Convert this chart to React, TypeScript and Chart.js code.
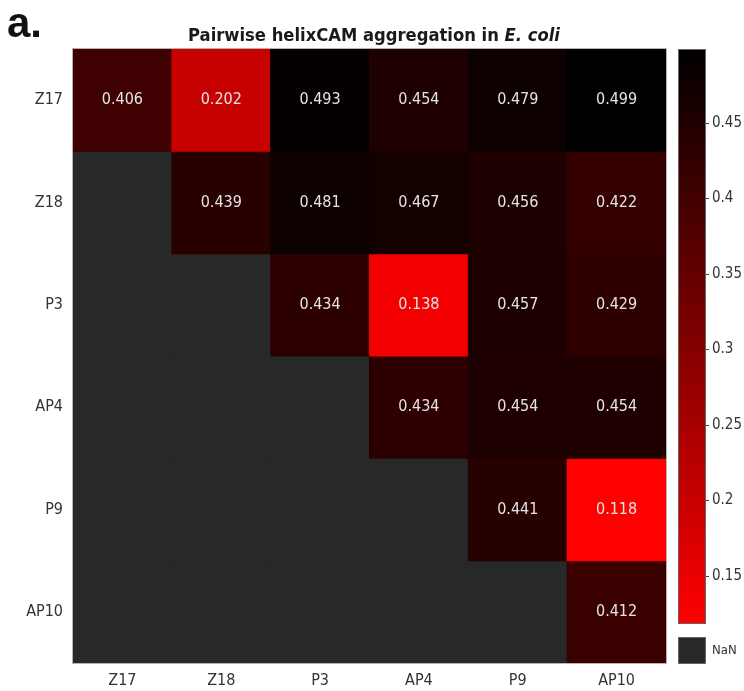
import React, { useEffect, useRef } from "react";
import { Chart, registerables } from "chart.js";

Chart.register(...registerables);

// ---- data ----
const ROW_LABELS = ["Z17", "Z18", "P3", "AP4", "P9", "AP10"];
const COL_LABELS = ["Z17", "Z18", "P3", "AP4", "P9", "AP10"];
const ROW_Z17 = [0.406, 0.202, 0.493, 0.454, 0.479, 0.499];
const ROW_Z18 = [null, 0.439, 0.481, 0.467, 0.456, 0.422];
const ROW_P3 = [null, null, 0.434, 0.138, 0.457, 0.429];
const ROW_AP4 = [null, null, null, 0.434, 0.454, 0.454];
const ROW_P9 = [null, null, null, null, 0.441, 0.118];
const ROW_AP10 = [null, null, null, null, null, 0.412];
const MATRIX: (number | null)[][] = [ROW_Z17, ROW_Z18, ROW_P3, ROW_AP4, ROW_P9, ROW_AP10];
const CB_MIN = 0.118;
const CB_MAX = 0.499;
const CB_TICKS = [0.15, 0.2, 0.25, 0.3, 0.35, 0.4, 0.45];
const TITLE_MAIN = "Pairwise helixCAM aggregation in ";
const TITLE_ITALIC = "E. coli";
const PANEL_LABEL = "a.";
const NAN_LABEL = "NaN";

const NAN_COLOR = "#272828";
const FONT = "'DejaVu Sans Condensed', 'DejaVu Sans', sans-serif";

function cellColor(v: number | null): string {
  if (v === null) return NAN_COLOR;
  const t = Math.min(1, Math.max(0, (v - CB_MIN) / (CB_MAX - CB_MIN)));
  const r = Math.round(255 * (1 - t));
  return `rgb(${r},0,0)`;
}

const overlayPlugin = {
  id: "heatOverlay",
  afterDatasetsDraw(chart: any) {
    const ctx = chart.ctx;
    const area = chart.chartArea;
    ctx.save();
    // cell value labels
    ctx.font = `16px ${FONT}`;
    ctx.fillStyle = "#e4e4e4";
    ctx.textAlign = "center";
    ctx.textBaseline = "middle";
    MATRIX.forEach((row, i) => {
      const meta = chart.getDatasetMeta(i);
      row.forEach((v, j) => {
        if (v === null) return;
        const el: any = meta.data[j];
        const cy = (el.y + el.base) / 2;
        ctx.fillText(v.toFixed(3), el.x, cy);
      });
    });
    // plot frame
    ctx.strokeStyle = "#b4b4b4";
    ctx.lineWidth = 1;
    ctx.strokeRect(area.left - 0.5, area.top - 0.5, area.right - area.left + 1, area.bottom - area.top + 1);
    ctx.restore();
  },
  afterDraw(chart: any) {
    const ctx = chart.ctx;
    const area = chart.chartArea;
    ctx.save();

    // panel label
    ctx.font = `bold 42px 'Liberation Sans', Arial, sans-serif`;
    ctx.fillStyle = "#111";
    ctx.textAlign = "left";
    ctx.textBaseline = "alphabetic";
    ctx.fillText(PANEL_LABEL, 7, 37);

    // title (fit to target width)
    const targetW = 372;
    let size = 15;
    ctx.font = `bold ${size}px ${FONT}`;
    let w1 = ctx.measureText(TITLE_MAIN).width;
    ctx.font = `italic bold ${size}px ${FONT}`;
    let w2 = ctx.measureText(TITLE_ITALIC).width;
    size = (size * targetW) / (w1 + w2);
    ctx.font = `bold ${size}px ${FONT}`;
    w1 = ctx.measureText(TITLE_MAIN).width;
    ctx.font = `italic bold ${size}px ${FONT}`;
    w2 = ctx.measureText(TITLE_ITALIC).width;
    const cx = 374;
    const x0 = cx - (w1 + w2) / 2;
    ctx.fillStyle = "#1a1a1a";
    ctx.font = `bold ${size}px ${FONT}`;
    ctx.fillText(TITLE_MAIN, x0, 41);
    ctx.font = `italic bold ${size}px ${FONT}`;
    ctx.fillText(TITLE_ITALIC, x0 + w1, 41);

    // colorbar
    const cbL = area.right + 12;
    const cbW = 28;
    const cbTop = area.top;
    const cbBot = 624;
    const grad = ctx.createLinearGradient(0, cbTop, 0, cbBot);
    grad.addColorStop(0, cellColor(CB_MAX));
    grad.addColorStop(1, cellColor(CB_MIN));
    ctx.fillStyle = grad;
    ctx.fillRect(cbL, cbTop, cbW, cbBot - cbTop);
    ctx.strokeStyle = "#666";
    ctx.lineWidth = 1;
    ctx.strokeRect(cbL + 0.5, cbTop + 0.5, cbW - 1, cbBot - cbTop - 1);

    ctx.font = `15px ${FONT}`;
    ctx.fillStyle = "#333";
    ctx.textAlign = "left";
    ctx.textBaseline = "middle";
    CB_TICKS.forEach((t) => {
      const y = cbBot - ((t - CB_MIN) / (CB_MAX - CB_MIN)) * (cbBot - cbTop);
      ctx.strokeStyle = "#444";
      ctx.beginPath();
      ctx.moveTo(cbL + cbW, Math.round(y) + 0.5);
      ctx.lineTo(cbL + cbW + 3, Math.round(y) + 0.5);
      ctx.stroke();
      ctx.fillText(String(t), cbL + cbW + 6, y);
    });

    // NaN swatch
    const nTop = 637;
    const nBot = 664;
    ctx.fillStyle = NAN_COLOR;
    ctx.fillRect(cbL, nTop, cbW, nBot - nTop);
    ctx.strokeStyle = "#666";
    ctx.strokeRect(cbL + 0.5, nTop + 0.5, cbW - 1, nBot - nTop - 1);
    ctx.fillStyle = "#333";
    ctx.font = `13px ${FONT}`;
    ctx.fillText(NAN_LABEL, cbL + cbW + 6, (nTop + nBot) / 2);

    ctx.restore();
  },
};

export default function App() {
  const ref = useRef<HTMLCanvasElement | null>(null);

  useEffect(() => {
    if (!ref.current) return;
    const datasets = MATRIX.map((row, i) => ({
      label: ROW_LABELS[i],
      data: row.map(() => [i - 0.5, i + 0.5]),
      backgroundColor: row.map((v) => cellColor(v)),
      borderWidth: 0,
      inflateAmount: 0.5,
      grouped: false,
      barPercentage: 1,
      categoryPercentage: 1,
    }));

    const chart = new Chart(ref.current, {
      type: "bar",
      data: { labels: COL_LABELS, datasets: datasets as any },
      options: {
        animation: false,
        responsive: false,
        devicePixelRatio: 1,
        layout: { padding: { top: 49, right: 78, left: 0, bottom: 0 } },
        plugins: { legend: { display: false }, tooltip: { enabled: false }, title: { display: false } },
        scales: {
          x: {
            type: "category",
            grid: { display: false, drawTicks: false },
            border: { display: false },
            ticks: { color: "#333", font: { family: FONT, size: 16 }, padding: 8, maxRotation: 0 },
            afterFit: (s: any) => {
              s.height = 28;
            },
          },
          y: {
            type: "linear",
            min: -0.5,
            max: 5.5,
            reverse: true,
            grid: { display: false, drawTicks: false },
            border: { display: false },
            afterBuildTicks: (s: any) => {
              s.ticks = ROW_LABELS.map((_, i) => ({ value: i }));
            },
            ticks: {
              color: "#333",
              font: { family: FONT, size: 16 },
              padding: 10,
              callback: (v: any) => ROW_LABELS[v as number] ?? "",
            },
            afterFit: (s: any) => {
              s.width = 73;
            },
          },
        },
      } as any,
      plugins: [overlayPlugin],
    });
    return () => chart.destroy();
  }, []);

  return (
    <div style={{ position: "absolute", left: 0, top: 0, width: 744, height: 691, background: "#fff" }}>
      <canvas ref={ref} width={744} height={691} style={{ width: 744, height: 691, display: "block" }} />
    </div>
  );
}
